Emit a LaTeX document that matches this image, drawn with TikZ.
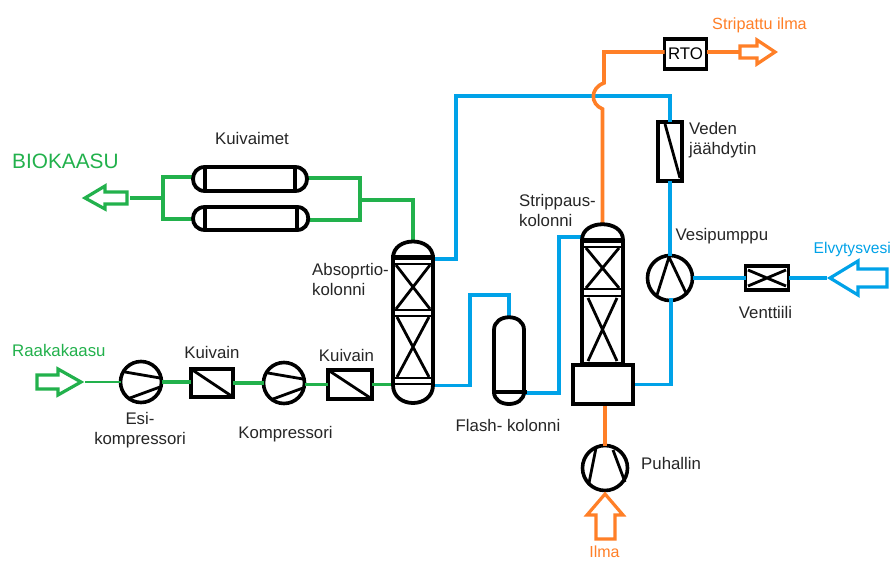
\documentclass[tikz,border=0pt]{standalone}
\usepackage{fontspec}
\setmainfont{Liberation Sans}
\definecolor{gr}{HTML}{22B14C}
\definecolor{bl}{HTML}{00A2E8}
\definecolor{og}{HTML}{FF7F27}
\tikzset{
  gpipe/.style={draw=gr,line width=3.6pt},
  bpipe/.style={draw=bl,line width=3.6pt},
  opipe/.style={draw=og,line width=3.6pt},
  equip/.style={draw=black,line width=3.6pt,fill=white,inner sep=0pt,outer sep=0pt},
  ghost/.style={inner sep=0pt,outer sep=0pt},
  thin part/.style={draw=black,line width=2.8pt},
  fat part/.style={draw=black,line width=3.8pt},
  lab/.style={font=\fontsize{16.8}{20}\selectfont,text=black!85,inner sep=0pt,align=left},
  flowarrow/.style={line width=3.2pt,fill=white,line join=miter},
}
\begin{document}
\begin{tikzpicture}[x=1pt,y=-1pt]
\useasboundingbox[fill=white] (0,0) rectangle (893,561);
% anchors of equipment
\node[ghost,minimum width=111pt,minimum height=25pt] (d1) at (250.5,179) {};
\node[ghost,minimum width=113pt,minimum height=24pt] (d2) at (250.5,219) {};
\node[ghost,minimum width=40pt,minimum height=163pt] (abs) at (413,322.5) {};
\node[ghost,minimum width=40pt,minimum height=141pt] (str) at (602.5,294.5) {};
\node[ghost,minimum width=32pt,minimum height=87pt] (fl) at (509,360.5) {};
\node[equip,minimum size=41pt,circle] (c1) at (141,382) {};
\node[equip,minimum size=41pt,circle] (c2) at (284,383) {};
\node[equip,minimum size=45pt,circle] (wp) at (670,278) {};
\node[equip,minimum size=45pt,circle] (fan) at (605,468) {};
\node[equip,minimum width=42pt,minimum height=28pt] (k1) at (212,383) {};
\node[equip,minimum width=44pt,minimum height=29pt] (k2) at (350,384.5) {};
\node[equip,minimum width=42pt,minimum height=30pt,font=\fontsize{16.8}{18}\selectfont] (rto) at (685.5,54) {RTO};
\node[equip,minimum width=24pt,minimum height=59pt] (cool) at (670,151.5) {};
\node[equip,minimum width=43pt,minimum height=24pt] (valve) at (767,278) {};
\node[equip,minimum width=60pt,minimum height=39pt] (sump) at (603,384.5) {};
% free junctions
\coordinate (jl) at (163,198);
\coordinate (jla) at (163,177);
\coordinate (jlb) at (163,219);
\coordinate (jr) at (360,200);
\coordinate (jra) at (360,178);
\coordinate (jrb) at (360,220);
\coordinate (bioIn) at (130,198);
\coordinate (rawOut) at (85,382);
\coordinate (rtoOutEnd) at (739,52);
\coordinate (elvIn) at (827,278);
% pipes
\draw[gpipe] (bioIn) -- (jl);
\draw[gpipe] (d1.west |- jla) -- (jla) -- (jlb) -- (d2.west |- jlb);
\draw[gpipe] (d1.east |- jra) -- (jra) -- (jrb) -- (d2.east |- jrb);
\draw[gpipe] (jr) -- (abs.north |- jr) -- (abs.north);
\draw[draw=gr,line width=2pt] (rawOut) -- (c1.west);
\draw[gpipe] (c1.east) -- (k1.west |- c1.east);
\draw[gpipe] (k1.east) -- (c2.west |- k1.east);
\draw[gpipe] (c2.east |- k2.west) -- (k2.west);
\draw[gpipe] (k2.east) -- (abs.west |- k2.east);
\draw[bpipe] (abs.east |- 0,259) -- (456,259) -- (456,96) -- (670,96) -- (cool.north);
\draw[bpipe] (cool.south) -- (wp.north);
\draw[bpipe] (wp.east) -- (valve.west);
\draw[bpipe] (valve.east) -- (elvIn);
\draw[bpipe] (sump.east) -- (671,384.5) -- (671,298);
\draw[bpipe] (abs.east |- 0,385.5) -- (470,385.5) -- (470,295) -- (509,295) -- (fl.north);
\draw[bpipe] (fl.east |- 0,393) -- (559,393) -- (559,237) -- (str.west |- 0,237);
\draw[opipe] (rto.west |- 0,52) -- (604,52) -- (604,83) .. controls (590,88) and (590,104) .. (602.5,109) -- (str.north);
\draw[opipe] (rto.east |- rtoOutEnd) -- (rtoOutEnd);
\draw[opipe] (fan.north |- sump.south) -- (fan.north);
% dryers
\draw[fat part,fill=white] (205,167) -- (295,167) .. controls (311,167) and (311,191) .. (295,191) -- (205,191) .. controls (189,191) and (189,167) .. (205,167) -- cycle;
\draw[fat part] (205,167) -- (205,191) (295,167) -- (295,191);
\draw[fat part,fill=white] (205,207) -- (297,207) .. controls (312,207) and (312,230) .. (297,230) -- (205,230) .. controls (189,230) and (189,207) .. (205,207) -- cycle;
\draw[fat part] (205,207) -- (205,230) (297,207) -- (297,230);
% absorption column
\draw[fat part,fill=white] (393,258) .. controls (393,236) and (433,236) .. (433,258) -- (433,385) .. controls (433,409) and (393,409) .. (393,385) -- cycle;
\draw[line width=4.4pt] (391,257.5) -- (435,257.5);
\draw[thin part] (393,264) -- (433,264) (393,310) -- (433,310) (393,316) -- (433,316) (393,378) -- (433,378) (393,384) -- (433,384);
\draw[thin part] (396,265) -- (430,309) (430,265) -- (396,309) (397,317) -- (429,377) (429,317) -- (397,377);
% stripping column
\draw[fat part,fill=white] (582,240) .. controls (582,219) and (623,219) .. (623,240) -- (623,365) -- (582,365) -- cycle;
\draw[line width=4.4pt] (582,240.5) -- (623,240.5);
\draw[thin part] (582,247) -- (623,247) (582,289) -- (623,289) (582,296) -- (623,296) (582,363) -- (623,363);
\draw[thin part] (586,248) -- (619,288) (619,248) -- (586,288) (588,298) -- (617,361) (617,298) -- (588,361);
\node[equip,minimum width=60pt,minimum height=39pt] at (sump) {};
% flash
\draw[fat part,fill=white] (494,330) .. controls (494,313) and (524,313) .. (524,330) -- (524,392) .. controls (524,408) and (494,408) .. (494,392) -- cycle;
\draw[fat part] (491.5,392) -- (526.5,392);
% rotating machines
\draw[thin part,shift={(c1.center)}] (-16,-10) -- (19,-4) (-11,16) -- (19,5);
\draw[thin part,shift={(c2.center)}] (-16,-10) -- (19,-4) (-11,16) -- (19,5);
\draw[thin part,shift={(wp.center)}] (-1,-21) -- (-13,17) (-1,-21) -- (17,17);
\draw[thin part,shift={(fan.center)}] (-9,-20) -- (-16,15) (8,-18) -- (20,14);
% small equipment internals
\draw[thin part] (k1.north west) -- (k1.south east);
\draw[thin part] (k2.north west) -- (k2.south east);
\draw[thin part] (665,124) -- (680,178);
\draw[thin part] (748,270) -- (786,286) (748,286) -- (786,270);
% arrows
\draw[flowarrow,draw=gr] (127,192) -- (105,192) -- (105,186) -- (85,198) -- (105,209) -- (105,204) -- (127,204) -- cycle;
\draw[flowarrow,draw=gr] (37,375) -- (58,375) -- (58,369) -- (81,382) -- (58,395) -- (58,389) -- (37,389) -- cycle;
\draw[flowarrow,draw=og] (740,46) -- (757,46) -- (757,40) -- (775,52) -- (757,64) -- (757,58) -- (740,58) -- cycle;
\draw[flowarrow,draw=bl] (887,269) -- (858,269) -- (858,261) -- (830,278) -- (858,295) -- (858,287) -- (887,287) -- cycle;
\draw[flowarrow,draw=og] (596,539) -- (596,515) -- (587,515) -- (605,494) -- (623,515) -- (615,515) -- (615,539) -- cycle;
% labels
\node[lab,text=gr,font=\fontsize{20.8}{22}\selectfont,anchor=west] (tBio) at (12,161.5) {BIOKAASU};
\node[lab,anchor=center] (tKm) at (252,138.5) {Kuivaimet};
\node[lab,anchor=west] (tAbs) at (312,279) {Absoprtio-\\kolonni};
\node[lab,text=gr,anchor=west] (tRaw) at (12,350) {Raakakaasu};
\node[lab,anchor=center] (tK1) at (212,352) {Kuivain};
\node[lab,anchor=center] (tK2) at (346.5,355) {Kuivain};
\node[lab,align=center,anchor=center] (tEsi) at (140,430) {Esi-\\kompressori};
\node[lab,anchor=center] (tKo) at (285.5,434) {Kompressori};
\node[lab,anchor=center] (tFl) at (508,425.5) {Flash- kolonni};
\node[lab,anchor=west] (tSt) at (519,210) {Strippaus-\\kolonni};
\node[lab,anchor=west] (tVe) at (689,140) {Veden\\jäähdytin};
\node[lab,anchor=west] (tVp) at (675.5,236) {Vesipumppu};
\node[lab,anchor=center] (tVa) at (765.5,312.5) {Venttiili};
\node[lab,anchor=west] (tPu) at (641,463) {Puhallin};
\node[lab,text=bl,font=\fontsize{15.6}{20}\selectfont,anchor=east] (tEl) at (891,249) {Elvytysvesi};
\node[lab,text=og,font=\fontsize{16.2}{20}\selectfont,anchor=center] (tSi) at (759.5,25) {Stripattu ilma};
\node[lab,text=og,font=\fontsize{16}{20}\selectfont,anchor=center] (tIl) at (604.5,551.5) {Ilma};
\end{tikzpicture}
\end{document}
